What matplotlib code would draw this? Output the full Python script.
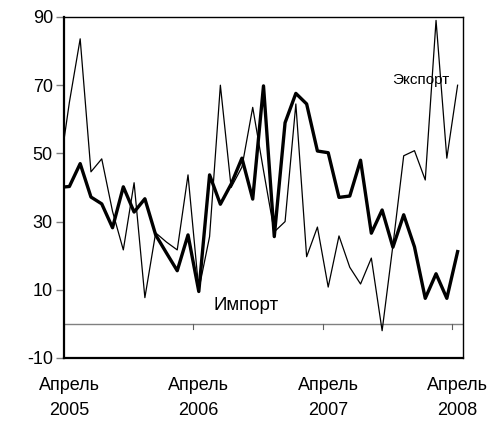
import numpy as np
import matplotlib
matplotlib.use("Agg")
import matplotlib.pyplot as plt

plt.rcParams['font.family'] = ['Liberation Sans', 'DejaVu Sans']

# months index: -1 = March 2005 (clipped), 0 = April 2005 ... 36 = April 2008
months = list(range(-1, 37))
export = [43, 65, 83.6, 44.6, 48.4, 33, 21.7, 41.4, 7.7, 26.7, 24, 21.7, 43.7, 10,
          25.6, 70, 40, 46, 63.5, 45, 27, 30, 64.5, 19.7, 28.4, 10.8, 25.8, 16.6,
          11.7, 19.3, -2, 23, 49.3, 50.8, 42.2, 89, 48.6, 70]
imports = [40, 40.3, 47, 37.2, 35.2, 28.2, 40.2, 32.8, 36.7, 26.1, 20.8, 15.6, 26.1,
           9.5, 43.7, 35.1, 41, 48.6, 36.6, 69.8, 25.6, 59, 67.6, 64.5, 50.7, 50.2,
           37.1, 37.5, 48, 26.6, 33.4, 22.5, 32, 22.6, 7.5, 14.7, 7.5, 21.2]
tick_pos = [0, 12, 24, 36]
tick_labels = ["Апрель\n2005", "Апрель\n2006", "Апрель\n2007", "Апрель\n2008"]
yticks = [-10, 10, 30, 50, 70, 90]

fig = plt.figure(figsize=(4.95, 4.24), dpi=100)
ax = fig.add_axes([64/495, 1-358/424, (463-64)/495, (358-17)/424])

ax.axhline(0, color='#808080', lw=1.0, zorder=1)
for p in tick_pos:
    ax.plot([p-0.5, p-0.5], [0, -1.5], color='#606060', lw=0.8, zorder=1)

ax.plot(months, export, color='black', lw=0.9, zorder=3)
ax.plot(months, imports, color='black', lw=2.4, zorder=4)

ax.set_xlim(-0.5, 36.5)
ax.set_ylim(-10, 90)
ax.set_yticks(yticks)
ax.set_yticklabels([str(v) for v in yticks], fontsize=13)
ax.tick_params(axis='y', direction='out', length=6, width=1, color='#808080', pad=2)
ax.set_xticks(tick_pos)
ax.set_xticklabels(tick_labels, fontsize=13, linespacing=1.55)
ax.tick_params(axis='x', length=0, pad=14)

for s in ['left', 'bottom']:
    ax.spines[s].set_linewidth(1.6)
for s in ['top', 'right']:
    ax.spines[s].set_linewidth(1.0)

ax.annotate("Экспорт", xy=(421/495, 1-80/424), xycoords='figure fraction',
            fontsize=11, ha='center', va='center')
ax.annotate("Импорт", xy=(246/495, 1-306/424), xycoords='figure fraction',
            fontsize=13.5, ha='center', va='center')

fig.savefig("out.png", dpi=100)
